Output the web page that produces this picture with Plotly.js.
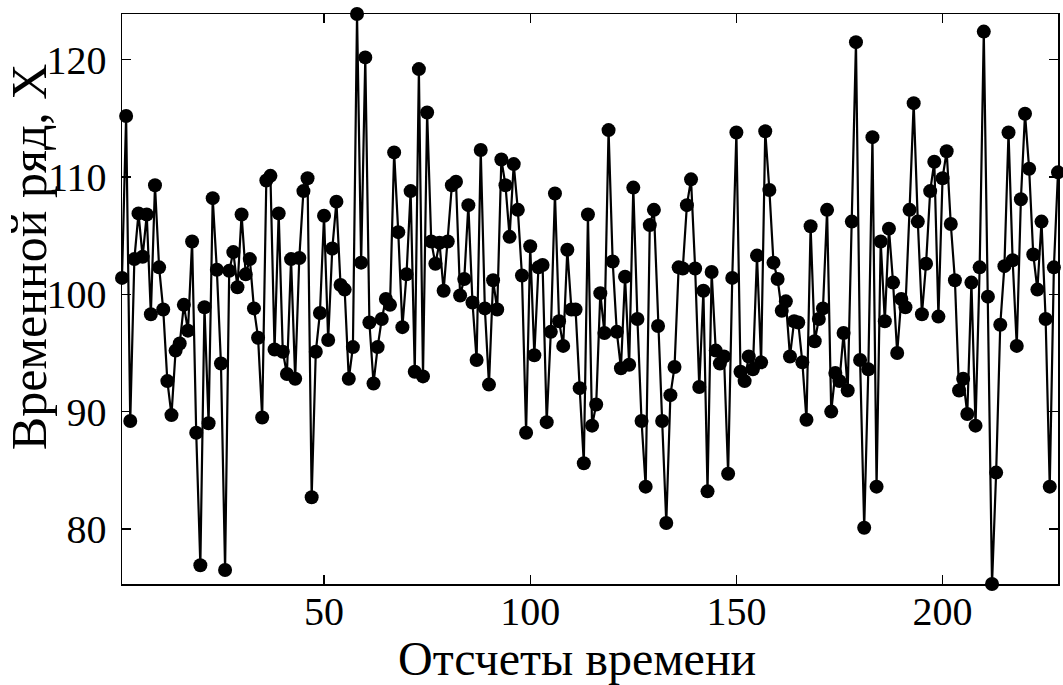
<!DOCTYPE html>
<html>
<head>
<meta charset="utf-8">
<script src="https://cdn.plot.ly/plotly-3.0.1.min.js"></script>
<style>
  html, body { margin: 0; padding: 0; background: #fff; }
  #chart { width: 1063px; height: 685px; }
</style>
</head>
<body>
<div id="chart"></div>
<script>
// Time series values (samples 1..228)
const seriesValues = [
  101.4, 115.2, 89.2, 103.0, 106.9, 103.2, 106.8, 98.3, 109.3, 102.3,
  98.7, 92.6, 89.7, 95.2, 95.8, 99.1, 96.9, 104.5, 88.2, 76.9,
  98.9, 89.0, 108.2, 102.1, 94.1, 76.5, 102.0, 103.6, 100.6, 106.8,
  101.7, 103.0, 98.8, 96.3, 89.5, 109.7, 110.1, 95.3, 106.9, 95.1,
  93.2, 103.0, 92.8, 103.1, 108.8, 109.9, 82.7, 95.1, 98.4, 106.7,
  96.1, 103.9, 107.9, 100.8, 100.4, 92.8, 95.5, 123.9, 102.7, 120.2,
  97.6, 92.4, 95.5, 97.9, 99.6, 99.1, 112.1, 105.3, 97.2, 101.7,
  108.8, 93.4, 119.2, 93.0, 115.5, 104.5, 102.6, 104.4, 100.3, 104.5,
  109.3, 109.6, 99.9, 101.3, 107.6, 99.3, 94.4, 112.3, 98.8, 92.3,
  101.2, 98.7, 111.5, 109.3, 104.9, 111.1, 107.2, 101.6, 88.2, 104.1,
  94.8, 102.3, 102.5, 89.1, 96.8, 108.6, 97.7, 95.6, 103.8, 98.7,
  98.7, 92.0, 85.6, 106.8, 88.8, 90.6, 100.1, 96.7, 114.0, 102.8,
  96.8, 93.7, 101.5, 94.0, 109.1, 97.9, 89.2, 83.6, 105.9, 107.2,
  97.3, 89.2, 80.5, 91.4, 93.8, 102.3, 102.2, 107.6, 109.8, 102.2,
  92.1, 100.3, 83.2, 101.9, 95.2, 94.1, 94.7, 84.7, 101.4, 113.8,
  93.4, 92.6, 94.7, 93.6, 103.3, 94.2, 113.9, 108.9, 102.7, 101.3,
  98.6, 99.4, 94.7, 97.7, 97.6, 94.2, 89.3, 105.8, 96.0, 97.9,
  98.8, 107.2, 90.0, 93.3, 92.6, 96.7, 91.8, 106.2, 121.5, 94.4,
  80.1, 93.6, 113.4, 83.6, 104.5, 97.7, 105.6, 101.0, 95.0, 99.6,
  98.9, 107.2, 116.3, 106.2, 98.3, 102.6, 108.8, 111.3, 98.1, 109.9,
  112.2, 106.0, 101.2, 91.8, 92.8, 89.8, 101.0, 88.8, 102.3, 122.4,
  99.8, 75.3, 84.8, 97.4, 102.4, 113.8, 102.9, 95.6, 108.1, 115.4,
  110.7, 103.4, 100.4, 106.2, 97.9, 83.6, 102.3, 110.4
];
const sampleIndex = seriesValues.map((v, i) => i + 1);

const xTickValues = [50, 100, 150, 200];
const yTickValues = [80, 90, 100, 110, 120];

const xTitleText = "Отсчеты времени";
const yTitleText = "Временной ряд, X";

const serif = "Liberation Serif, Times New Roman, serif";

const trace = {
  x: sampleIndex,
  y: seriesValues,
  type: "scatter",
  mode: "lines+markers",
  line: { color: "#000000", width: 2.2 },
  marker: { color: "#000000", size: 14, symbol: "circle" },
  cliponaxis: false,
  hoverinfo: "x+y"
};

const axisCommon = {
  showline: true,
  linecolor: "#000000",
  linewidth: 1.5,
  mirror: "ticks",
  ticks: "inside",
  ticklen: 9,
  tickwidth: 1.3,
  tickcolor: "#000000",
  showgrid: false,
  zeroline: false,
  tickfont: { family: serif, size: 40, color: "#000000" }
};

const layout = {
  width: 1063,
  height: 685,
  margin: { l: 122, r: 5, t: 14, b: 101 },
  paper_bgcolor: "#ffffff",
  plot_bgcolor: "#ffffff",
  showlegend: false,
  xaxis: Object.assign({}, axisCommon, {
    range: [1, sampleIndex.length],
    tickmode: "array",
    tickvals: xTickValues,
    ticktext: xTickValues.map(String),
    ticklabelstandoff: -9
  }),
  yaxis: Object.assign({}, axisCommon, {
    range: [Math.min(...seriesValues), Math.max(...seriesValues)],
    tickmode: "array",
    tickvals: yTickValues,
    ticktext: yTickValues.map(String),
    ticklabelstandoff: 6
  }),
  annotations: [
    {
      text: xTitleText,
      xref: "paper", yref: "paper",
      x: 0.486, y: -0.13,
      xanchor: "center", yanchor: "middle",
      showarrow: false,
      font: { family: serif, size: 48, color: "#000000" }
    },
    {
      text: yTitleText,
      xref: "paper", yref: "paper",
      x: -0.1, y: 0.574,
      xanchor: "center", yanchor: "middle",
      textangle: -90,
      showarrow: false,
      font: { family: serif, size: 50, color: "#000000" }
    }
  ]
};

Plotly.newPlot("chart", [trace], layout, { displayModeBar: false, staticPlot: true });
</script>
</body>
</html>
